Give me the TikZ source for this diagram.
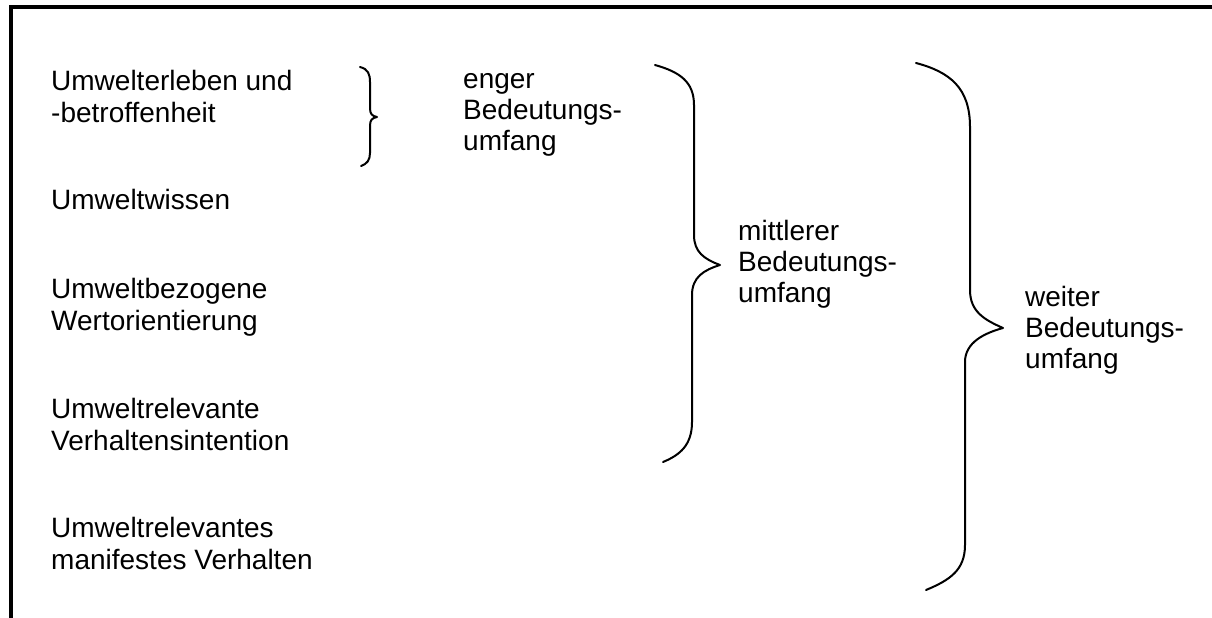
\documentclass[tikz,border=0pt]{standalone}
\usepackage{fontspec}
\setmainfont{Liberation Sans}
\usepackage{tikz}
\usetikzlibrary{positioning}

\begin{document}
\begin{tikzpicture}[
    x=1pt, y=-1pt,
    % base anchor sits on the last line of each block
    item/.style={anchor=base west, inner sep=0pt, align=left,
                 font=\fontsize{28pt}{31.5pt}\selectfont},
    scopelabel/.style={item, font=\fontsize{28pt}{31pt}\selectfont},
    bracket/.style={line width=2pt, line cap=round, line join=round}
]
    \useasboundingbox (0,0) rectangle (1212,618);

    % frame, open at the right and bottom
    \draw[line width=3.5pt] (11,618) -- (11,7) -- (1212,7);

    % the five components
    \node[item] (erleben)   at (51,122) {Umwelterleben und\\-betroffenheit};
    \node[item] (wissen)    at (51,209) {Umweltwissen};
    \node[item] (werte)     at (51,330) {Umweltbezogene\\Wertorientierung};
    \node[item] (intention) at (51,450) {Umweltrelevante\\Verhaltensintention};
    \node[item] (verhalten) at (51,569) {Umweltrelevantes\\manifestes Verhalten};

    % the three ranges of meaning
    \node[scopelabel] (enger)  at (463,150)  {enger\\Bedeutungs-\\umfang};
    \node[scopelabel] (mittel) at (738,302)  {mittlerer\\Bedeutungs-\\umfang};
    \node[scopelabel] (weit)   at (1025,368) {weiter\\Bedeutungs-\\umfang};

    % braces
    \draw[bracket] (360,67) .. controls (368,69) and (370,74) .. (370,82)
        -- (370,108) .. controls (370,114) and (372,116) .. (377,117)
        .. controls (372,118) and (370,120) .. (370,126)
        -- (370,153) .. controls (370,160) and (367,164) .. (361,166);
    \draw[bracket] (655,65) .. controls (680,72) and (694,82) .. (694,105)
        -- (694,235) .. controls (694,252) and (704,259) .. (720,265)
        .. controls (704,270) and (692,277) .. (692,295)
        -- (692,422) .. controls (692,445) and (680,455) .. (663,462);
    \draw[bracket] (916,63) .. controls (950,72) and (970,88) .. (970,127)
        -- (970,290) .. controls (970,312) and (985,320) .. (1003,328)
        .. controls (985,333) and (965,342) .. (965,362)
        -- (965,545) .. controls (965,570) and (950,580) .. (926,590);
\end{tikzpicture}
\end{document}
